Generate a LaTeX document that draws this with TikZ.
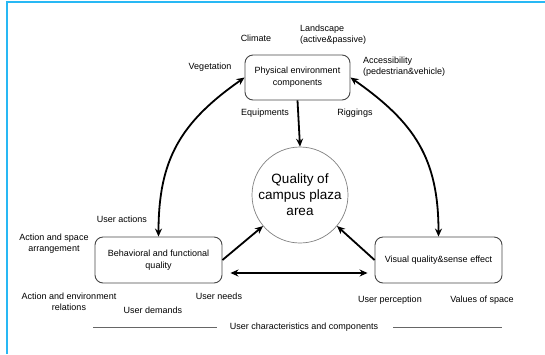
\documentclass[tikz,border=0pt]{standalone}
\usepackage{fontspec}
\setmainfont{Liberation Sans}
\usetikzlibrary{arrows.meta}

\definecolor{framecyan}{RGB}{40,184,244}
\definecolor{boxgray}{RGB}{70,70,70}

\begin{document}
\begin{tikzpicture}[x=1pt,y=-1pt,
	lab/.style={font=\fontsize{9}{11}\selectfont, align=center, inner sep=0pt},
	qbox/.style={draw=boxgray, line width=0.9pt, rounded corners=8pt, align=center,
		font=\fontsize{9}{12}\selectfont, inner sep=0pt},
	bigarrow/.style={line width=1.8pt, -{Stealth[length=8pt,width=7pt]}},
	bothway/.style={line width=1.8pt, {Stealth[length=8pt,width=7pt]}-{Stealth[length=8pt,width=7pt]}},
]

% frame %{{{1

	\useasboundingbox (0,0) rectangle (545,354);
	\draw[framecyan, line width=1.6pt] (7,354) -- (7,2) -- (545,2);

% coordinates %{{{1

	\coordinate (P) at (297.5,77.5);
	\coordinate (Q) at (300,195);
	\coordinate (B) at (158.5,260);
	\coordinate (V) at (438.5,260);

% boxes and circle %{{{1

	\node[qbox, minimum width=105pt, minimum height=45pt] (phys) at (P)
		{Physical environment\\components};
	\node[draw=gray, line width=0.7pt, circle, minimum size=96pt, inner sep=0pt,
		align=center, font=\fontsize{13.5}{16}\selectfont] (qual) at (Q)
		{Quality of\\campus plaza\\area};
	\node[qbox, minimum width=127pt, minimum height=46pt] (behav) at (B)
		{Behavioral and functional\\quality};
	\node[qbox, minimum width=127pt, minimum height=46pt] (visual) at (V)
		{Visual quality\&sense effect};

% arrows %{{{1

	\draw[bigarrow] (phys.south) -- (qual.north);
	\draw[bigarrow] (behav.east) -- (qual.220);
	\draw[bigarrow] (visual.west) -- (qual.320);
	\draw[bothway] ([xshift=8pt,yshift=-13pt]behav.east) -- ([xshift=-7pt,yshift=-13pt]visual.west);

	\draw[bothway] (behav.north) to[out=90, in=215, looseness=1.1] (phys.west);
	\draw[bothway] (visual.north) to[out=90, in=-35, looseness=1.1] (phys.east);

% physical labels %{{{1

	\node[lab] (climate) at (256,38) {Climate};
	\node[lab, align=left, anchor=west] (landsc) at (300,35) {Landscape\\(active\&passive)};
	\node[lab] (veget) at (210,67) {Vegetation};
	\node[lab, align=left, anchor=west] (access) at (363,67) {Accessibility\\(pedestrian\&vehicle)};
	\node[lab] (equip) at (265,113) {Equipments};
	\node[lab] (rigg) at (355,113) {Riggings};

% user labels %{{{1

	\node[lab] (uact) at (122,219) {User actions};
	\node[lab] (aspace) at (54,244) {Action and space\\arrangement};
	\node[lab] (aenv) at (69,302) {Action and environment\\relations};
	\node[lab] (udem) at (153,310) {User demands};
	\node[lab] (uneed) at (219,296) {User needs};
	\node[lab] (uperc) at (390,300) {User perception};
	\node[lab] (uval) at (482,300) {Values of space};

% bottom line %{{{1

	\node[lab] (uchar) at (304,327) {User characteristics and components};
	\coordinate (L1) at (93,327);
	\coordinate (L2) at (217,327);
	\coordinate (R1) at (393,327);
	\coordinate (R2) at (502,327);
	\draw[gray!80!black, line width=0.6pt] (L1) -- (L2) (R1) -- (R2);

% closing %{{{1

\end{tikzpicture}
\end{document}
